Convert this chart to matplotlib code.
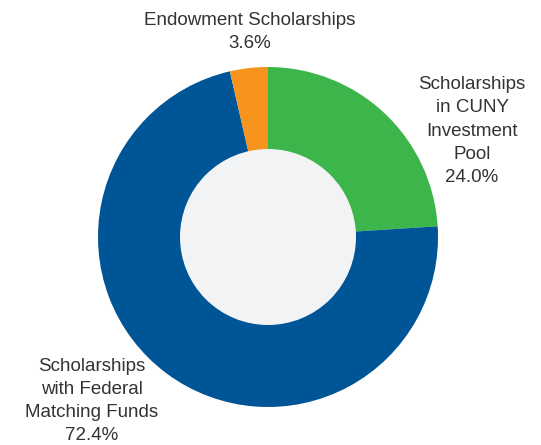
import matplotlib
matplotlib.use("Agg")
import matplotlib.pyplot as plt
from matplotlib.patches import Circle

labels = ["Scholarships\nin CUNY\nInvestment\nPool",
          "Scholarships\nwith Federal\nMatching Funds",
          "Endowment Scholarships"]
shares = [24.0, 72.4, 3.6]
colors = ["#3cb64b", "#005596", "#f7941d"]

W, H = 541, 445
fig = plt.figure(figsize=(W / 100, H / 100), dpi=100)
ax = fig.add_axes([0, 0, 1, 1])

cx, cy, r_out, r_in = 268, H - 237, 170, 88

ax.pie(shares, colors=colors, startangle=90, counterclock=False,
       center=(cx, cy), radius=r_out, frame=True,
       wedgeprops=dict(linewidth=0))
ax.add_patch(Circle((cx, cy), r_in, facecolor="#f1f3f5", edgecolor="none", zorder=5))

ax.set_xlim(0, W)
ax.set_ylim(0, H)
ax.set_aspect("equal")
ax.axis("off")

font = dict(family=["Liberation Sans", "DejaVu Sans"], fontsize=13.5,
            color="#333333", ha="center", va="center", linespacing=1.47)

# label positions in pixel space (x, y of the block centre)
label_pos = [(472, H - 131), (92, H - 401), (250, H - 32)]
for lab, val, (x, y) in zip(labels, shares, label_pos):
    ax.text(x, y, f"{lab}\n{val:.1f}%", **font)

fig.savefig("out.png", dpi=100)
